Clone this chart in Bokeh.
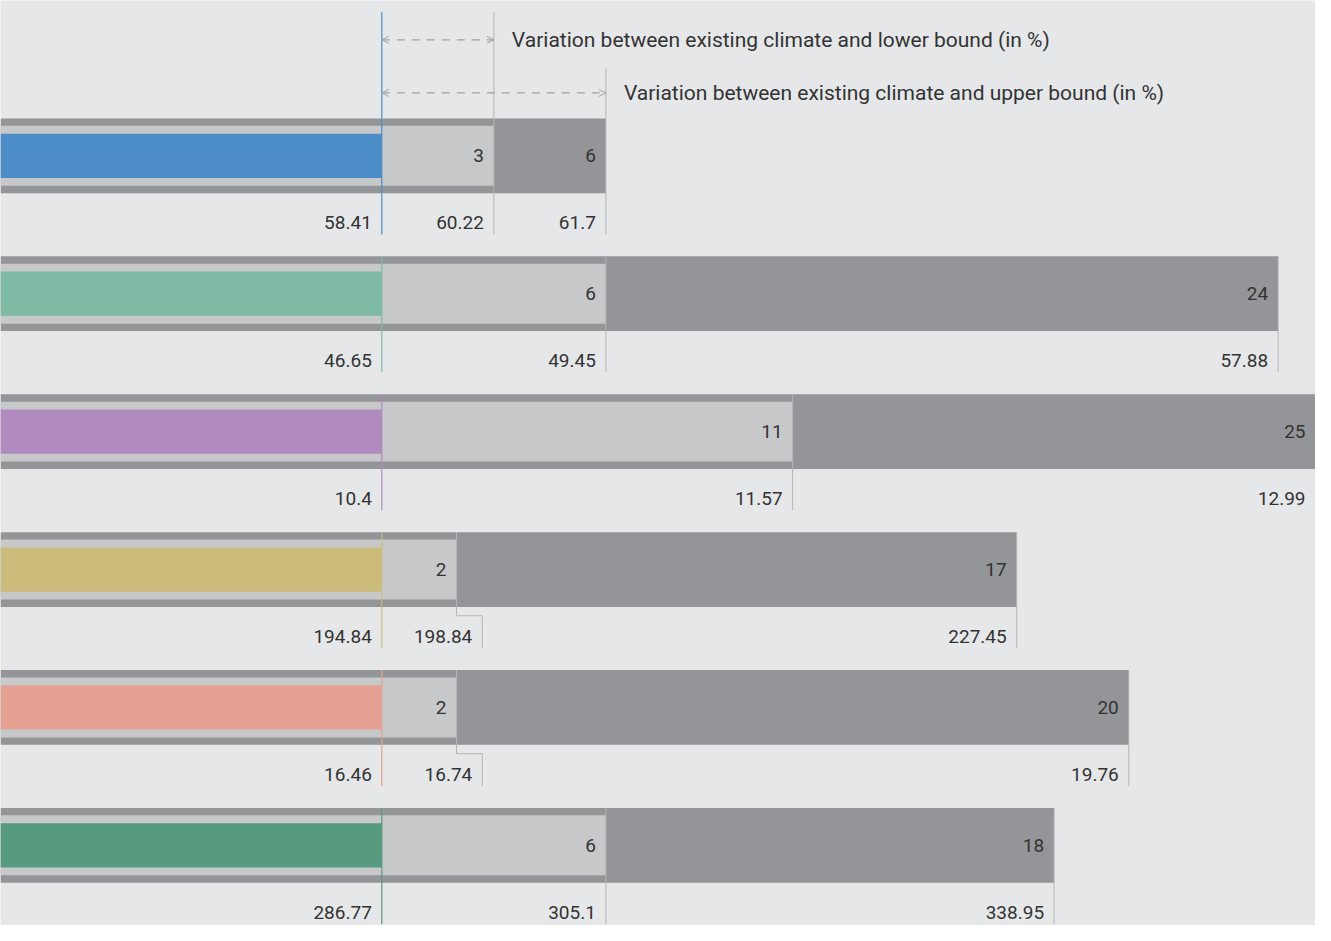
from bokeh.plotting import figure
from bokeh.models import Range1d, ColumnDataSource, Arrow, OpenHead, Label
from bokeh.core.properties import value
from bokeh.embed import file_html
from bokeh.resources import INLINE

# ---- data -------------------------------------------------------------
existing = [58.41, 46.65, 10.4, 194.84, 16.46, 286.77]
lower_val = [60.22, 49.45, 11.57, 198.84, 16.74, 305.1]
upper_val = [61.7, 57.88, 12.99, 227.45, 19.76, 338.95]
lower_pct = [3, 6, 11, 2, 2, 6]
upper_pct = [6, 24, 25, 17, 20, 18]
colors = ["#4c8cc7", "#7fbaa5", "#b18bbf", "#ccbc7c", "#e5a292", "#569a80"]
ann_lower = "Variation between existing climate and lower bound (in %)"
ann_upper = "Variation between existing climate and upper bound (in %)"

# ---- style ------------------------------------------------------------
BG = "#e6e7e9"
DARK = "#939598"
LIGHT = "#c7c8ca"
GUIDE = "#b3b5b8"
ARROW = "#a0a2a5"
TXT = "#333333"
FONT = "Roboto"
BASE = -20

rows = list(range(len(existing)))

p = figure(width=1315, height=925,
           x_range=Range1d(-10.21, 25.0), y_range=Range1d(5.581, -1.126),
           output_backend="svg", toolbar_location=None, min_border=0)
p.axis.visible = False
p.grid.visible = False
p.outline_line_color = None
p.background_fill_color = BG
p.border_fill_color = BG

src = ColumnDataSource(dict(
    y=rows,
    base=[BASE] * len(rows),
    zero=[0] * len(rows),
    lower=lower_pct, upper=upper_pct,
    color=colors,
))

# bars
p.hbar(y="y", left="base", right="upper", height=0.542, source=src,
       fill_color=DARK, line_color=None)
p.hbar(y="y", left="base", right="lower", height=0.435, source=src,
       fill_color=LIGHT, line_color=None)
p.hbar(y="y", left="base", right="zero", height=0.321, source=src,
       fill_color="color", line_color=None)

# guide lines
BAR_TOP = -0.27
LINE_BOT = 0.57
ELBOW_Y = 0.335
ELBOW_DX = 0.69
LABEL_DY = 0.485
ANN_TOP_LOW = -1.04
ANN_TOP_UP = -0.641
ANN_Y_LOW = -0.841
ANN_Y_UP = -0.456

g_xs, g_ys = [], []
c_xs, c_ys, c_col = [], [], []
lab_x, lab_y, lab_t = [], [], []
for i in rows:
    top0 = ANN_TOP_LOW if i == 0 else i + BAR_TOP
    # existing line (series colour)
    c_xs.append([0, 0])
    c_ys.append([top0, i + LINE_BOT])
    c_col.append(colors[i])
    lab_x.append(0); lab_y.append(i + LABEL_DY); lab_t.append(f"{existing[i]:g}")
    # lower bound line
    lo = lower_pct[i]
    if lo < 3:
        g_xs.append([lo, lo, lo + ELBOW_DX, lo + ELBOW_DX])
        g_ys.append([top0, i + ELBOW_Y, i + ELBOW_Y, i + LINE_BOT])
        lab_x.append(lo + ELBOW_DX)
    else:
        g_xs.append([lo, lo])
        g_ys.append([top0, i + LINE_BOT])
        lab_x.append(lo)
    lab_y.append(i + LABEL_DY); lab_t.append(f"{lower_val[i]:g}")
    # upper bound line
    up = upper_pct[i]
    topu = ANN_TOP_UP if i == 0 else i + BAR_TOP
    g_xs.append([up, up])
    g_ys.append([topu, i + LINE_BOT])
    lab_x.append(up); lab_y.append(i + LABEL_DY); lab_t.append(f"{upper_val[i]:g}")

p.multi_line(xs=g_xs, ys=g_ys, line_color=GUIDE, line_width=1)
p.multi_line(xs=c_xs, ys=c_ys, line_color=c_col, line_width=1.2)

# value labels under bars
p.text(x=lab_x, y=lab_y, text=lab_t, text_align="right", text_baseline="middle",
       x_offset=-10, text_font=value(FONT), text_font_size="19px", text_color=TXT)

# percentage labels inside bars
pct_x = lower_pct + upper_pct
pct_y = rows + rows
pct_t = [str(v) for v in pct_x]
p.text(x=pct_x, y=pct_y, text=pct_t, text_align="right", text_baseline="middle",
       x_offset=-10, text_font=value(FONT), text_font_size="19px", text_color=TXT)

# annotation arrows
for xe, ya in ((lower_pct[0], ANN_Y_LOW), (upper_pct[0], ANN_Y_UP)):
    p.add_layout(Arrow(
        start=OpenHead(size=7, line_color=ARROW, line_width=1),
        end=OpenHead(size=7, line_color=ARROW, line_width=1),
        x_start=0, y_start=ya, x_end=xe, y_end=ya,
        line_color=ARROW, line_width=1.3, line_dash="8 7"))

p.add_layout(Label(x=lower_pct[0], y=ANN_Y_LOW, x_offset=18, text=ann_lower,
                   text_baseline="middle", text_font=FONT, text_font_size="21px",
                   text_color=TXT))
p.add_layout(Label(x=upper_pct[0], y=ANN_Y_UP, x_offset=18, text=ann_upper,
                   text_baseline="middle", text_font=FONT, text_font_size="21px",
                   text_color=TXT))

open("out.html", "w").write(file_html(p, INLINE))
